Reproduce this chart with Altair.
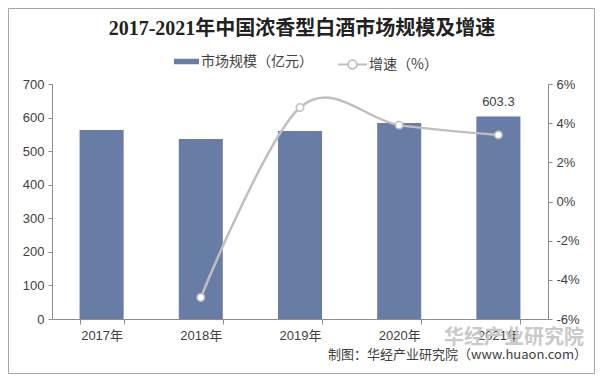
import altair as alt
import pandas as pd

# ---- data ----
years = ["2017年", "2018年", "2019年", "2020年", "2021年"]
market_size = [563, 536, 560, 584, 603.3]          # 亿元
bar_labels = ["", "", "", "", "603.3"]
growth_years = ["2018年", "2019年", "2020年", "2021年"]
growth_rate = [-4.9, 4.8, 3.9, 3.4]                # %
size_axis_ticks = [0, 100, 200, 300, 400, 500, 600, 700]
rate_axis_ticks = [-6, -4, -2, 0, 2, 4, 6]

title_text = "2017-2021年中国浓香型白酒市场规模及增速"
series_bar = "市场规模（亿元）"
series_line = "增速（%）"
footer_text = "制图：华经产业研究院（www.huaon.com）"
watermark_text = "华经产业研究院"

bar_df = pd.DataFrame({"year": years, "size": market_size, "label": bar_labels,
                       "s": [series_bar] * len(years)})
line_df = pd.DataFrame({"year": growth_years, "rate": growth_rate,
                        "s": [series_line] * len(growth_years)})
one_df = pd.DataFrame({"t": [footer_text], "w": [watermark_text], "h": [title_text]})

# ---- style ----
FONT = "Liberation Sans, Noto Sans CJK SC"
CJK = "Noto Sans CJK SC"
bar_color = "#687DA6"
line_color = "#BFBFBF"
axis_color = "#8C8C8C"
text_color = "#404040"

axis_common = dict(domainColor=axis_color, tickColor=axis_color, tickSize=4,
                   labelFont=FONT, labelFontSize=13, labelColor=text_color,
                   labelPadding=4, grid=False, title=None)

x_enc = alt.X("year:N", sort=years, title=None,
              scale=alt.Scale(paddingInner=0.556, paddingOuter=0.278),
              axis=alt.Axis(labelAngle=0, tickBand="extent", domainColor=axis_color,
                            tickColor=axis_color, tickSize=5, labelFont=FONT,
                            labelFontSize=13, labelColor=text_color, labelPadding=5))

y_size = alt.Y("size:Q", scale=alt.Scale(domain=[0, 700], nice=False),
               axis=alt.Axis(values=size_axis_ticks, **axis_common))

bars = alt.Chart(bar_df).mark_bar().encode(
    x=x_enc,
    y=y_size,
    color=alt.Color("s:N", scale=alt.Scale(domain=[series_bar], range=[bar_color]),
                    legend=alt.Legend(orient="none", legendX=122, legendY=-35, title=None,
                                      symbolType="M-1,-0.22H1V0.22H-1Z", symbolSize=625,
                                      symbolStrokeWidth=0, labelFont=CJK, labelFontSize=14,
                                      labelColor=text_color, labelOffset=2)),
)
bar_text = alt.Chart(bar_df).mark_text(baseline="bottom", dy=-7, font=FONT, fontSize=13,
                                        color=text_color).encode(
    x=x_enc, y=y_size, text="label:N")

y_rate_axis = alt.Axis(values=rate_axis_ticks, orient="right",
                       labelExpr="datum.value + '%'", **axis_common)
y_rate = alt.Y("rate:Q", scale=alt.Scale(domain=[-6, 6], nice=False), axis=y_rate_axis)

line = alt.Chart(line_df).mark_line(interpolate="cardinal", strokeWidth=2.5).encode(
    x=x_enc, y=y_rate,
    stroke=alt.Stroke("s:N", scale=alt.Scale(domain=[series_line], range=[line_color]),
                      legend=alt.Legend(orient="none", legendX=285, legendY=-35, title=None,
                                        symbolType="M-1,0H-0.3M0.3,0H1M0.3,0A0.3,0.3,0,1,1,-0.3,0A0.3,0.3,0,1,1,0.3,0",
                                        symbolSize=841, symbolFillColor="white",
                                        symbolStrokeWidth=1.8, labelFont=CJK,
                                        labelFontSize=14, labelColor=text_color,
                                        labelOffset=1)),
)
points = alt.Chart(line_df).mark_point(filled=True, fill="white", stroke=line_color,
                                       strokeWidth=1.5, size=55, opacity=1).encode(
    x=x_enc, y=y_rate)

title = alt.Chart(one_df).mark_text(align="center", baseline="middle",
                                     font="Liberation Serif, Noto Sans CJK SC", fontSize=20,
                                     fontWeight="bold", color="#222222", clip=False).encode(
    x=alt.value(250), y=alt.value(-55), text="h:N")
frame = alt.Chart(one_df).mark_rect(fill=None, stroke="#A6A6A6", strokeWidth=1, clip=False).encode(
    x=alt.value(-43.5), x2=alt.value(542.5), y=alt.value(-75.5), y2=alt.value(289.5))
watermark = alt.Chart(one_df).mark_text(align="right", baseline="middle", font=CJK,
                                         fontSize=20, fontWeight="bold", color="#C9C9C9",
                                         clip=False).encode(
    x=alt.value(532), y=alt.value(254), text="w:N")
footer = alt.Chart(one_df).mark_text(align="right", baseline="middle", font=CJK,
                                      fontSize=13, color=text_color, clip=False).encode(
    x=alt.value(535), y=alt.value(271), text="t:N")

left = alt.layer(bars, bar_text)
right = alt.layer(line, points)

chart = alt.layer(left, right, watermark, footer, title, frame).resolve_scale(
    y="independent", color="independent", stroke="independent"
).properties(
    width=496, height=235,
    autosize=alt.AutoSizeParams(type="none"),
    padding={"left": 44, "top": 76, "right": 47, "bottom": 56},
    background="white",
).configure_view(stroke=None)

chart.save("out.html", embed_options={"renderer": "svg", "actions": False})
